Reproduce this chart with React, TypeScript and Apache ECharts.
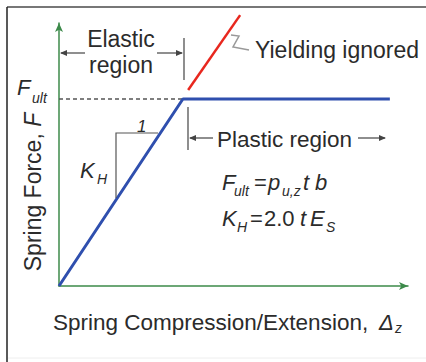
import React, { useEffect, useRef } from "react";
import * as echarts from "echarts";

// Spring force vs. compression (schematic, in % of axis range)
const elasticX = [0, 35.5];
const elasticY = [0, 71.1];
const plasticX = [35.5, 94.8];
const plasticY = [71.1, 71.1];
const yieldIgnoredX = [37.0, 51.9];
const yieldIgnoredY = [74.5, 103.0];
const fultLineX = [0, 35.5];
const fultLineY = [71.1, 71.1];

const FONT = '"Liberation Sans", Arial, Helvetica, sans-serif';
const TXT = "#2b2b2b";
const LINE = "#444444";

function pairs(xs: number[], ys: number[]) {
  return xs.map((x, i) => [x, ys[i]]);
}

function txt(x: number, y: number, text: string, size: number, opts: any = {}) {
  return {
    type: "text",
    x,
    y,
    rotation: opts.rotation || 0,
    z: 10,
    style: {
      text,
      fill: TXT,
      font: `${opts.italic ? "italic " : ""}${size}px ${FONT}`,
      align: opts.align || "left",
      verticalAlign: "middle",
    },
  };
}

function seg(x1: number, y1: number, x2: number, y2: number, color = LINE, w = 1.2) {
  return {
    type: "line",
    z: 10,
    shape: { x1, y1, x2, y2 },
    style: { stroke: color, lineWidth: w },
  };
}

function head(tx: number, ty: number, dir: number) {
  // dir: -1 pointing left, 1 pointing right
  const L = 7, H = 3;
  return {
    type: "polygon",
    z: 10,
    shape: {
      points: [
        [tx, ty],
        [tx - dir * L, ty - H],
        [tx - dir * L, ty + H],
      ],
    },
    style: { fill: LINE },
  };
}

export default function App() {
  const ref = useRef<HTMLDivElement>(null);
  useEffect(() => {
    if (!ref.current) return;
    const chart = echarts.init(ref.current, null, { renderer: "svg" });
    const axisCommon = {
      type: "value",
      min: 0,
      max: 100,
      axisLabel: { show: false },
      axisTick: { show: false },
      splitLine: { show: false },
      axisLine: {
        show: true,
        symbol: ["none", "arrow"],
        symbolSize: [6, 9],
        symbolOffset: [0, 0],
        lineStyle: { color: "#3c8a4a", width: 1.5 },
      },
    };
    chart.setOption({
      animation: false,
      backgroundColor: "#ffffff",
      grid: { left: 59, right: 18, top: 23, bottom: 76 },
      xAxis: { ...axisCommon },
      yAxis: { ...axisCommon },
      series: [
        {
          type: "line",
          data: pairs(fultLineX, fultLineY),
          symbol: "none",
          lineStyle: { color: "#555555", width: 1.5, type: [4, 3] },
          z: 3,
        },
        {
          type: "line",
          data: pairs(elasticX, elasticY).concat([[plasticX[1], plasticY[1]]]),
          symbol: "none",
          lineStyle: { color: "#2f4fae", width: 3 },
          z: 4,
        },
        {
          type: "line",
          data: pairs(yieldIgnoredX, yieldIgnoredY),
          symbol: "none",
          clip: false,
          lineStyle: { color: "#e8271e", width: 2.5 },
          z: 4,
        },
      ],
      graphic: [
        // frame
        seg(7, 7, 426, 7, "#777777", 2),
        seg(7, 7, 7, 362, "#222222", 1.5),
        seg(8, 358, 426, 358, "#eeeeee", 1),
        // Elastic region bracket
        seg(184, 38, 184, 80),
        seg(61, 53, 85, 53),
        head(60, 53, -1),
        seg(157, 53, 182, 53),
        head(183, 53, 1),
        txt(121, 39, "Elastic", 23, { align: "center" }),
        txt(121, 65, "region", 23, { align: "center" }),
        // Yielding ignored
        {
          type: "polyline",
          z: 10,
          shape: { points: [[231, 35], [239, 36], [233, 47], [249, 50]] },
          style: { stroke: "#999999", lineWidth: 1.5, fill: null },
        },
        txt(255, 50, "Yielding ignored", 23),
        // Plastic region
        seg(188, 107, 188, 150),
        seg(190, 138, 213, 138),
        head(189, 138, -1),
        txt(217, 139, "Plastic region", 22.5),
        seg(358, 138, 385, 138),
        head(386, 138, 1),
        // F_ult label
        txt(17, 87, "F", 22, { italic: true }),
        txt(32, 98, "ult", 14, { italic: true }),
        // stiffness triangle
        {
          type: "polyline",
          z: 10,
          shape: { points: [[158, 133], [116, 133], [116, 198]] },
          style: { stroke: "#555555", lineWidth: 1.2, fill: null },
        },
        txt(137, 126, "1", 17, { italic: true }),
        txt(80, 170, "K", 22, { italic: true }),
        txt(97, 179, "H", 14, { italic: true }),
        // formulas
        txt(222, 182, "F", 22, { italic: true }),
        txt(234, 191, "ult", 14, { italic: true }),
        txt(254, 182, "=", 22),
        txt(268, 182, "p", 22, { italic: true }),
        txt(282, 191, "u,z", 14, { italic: true }),
        txt(303, 182, "t", 22, { italic: true }),
        txt(315, 182, "b", 22, { italic: true }),
        txt(222, 218, "K", 22, { italic: true }),
        txt(237, 227, "H", 14, { italic: true }),
        txt(250, 218, "=", 22),
        txt(264, 218, "2.0", 22),
        txt(300, 218, "t", 22, { italic: true }),
        txt(310, 218, "E", 22, { italic: true }),
        txt(326, 227, "S", 14, { italic: true }),
        // axis titles
        {
          type: "text",
          x: 33,
          y: 192,
          rotation: Math.PI / 2,
          z: 10,
          style: {
            text: "{n|Spring Force, }{i|F}",
            fill: TXT,
            align: "center",
            verticalAlign: "middle",
            rich: {
              n: { fontFamily: FONT, fontSize: 23, fill: TXT },
              i: { fontFamily: FONT, fontSize: 23, fontStyle: "italic", fill: TXT },
            },
          },
        },
        txt(53, 322, "Spring Compression/Extension,", 22.5),
        txt(379, 322, "Δ", 22, { italic: true }),
        txt(395, 328, "z", 14, { italic: true }),
      ],
    });
    return () => chart.dispose();
  }, []);
  return (
    <div
      ref={ref}
      style={{ position: "fixed", left: 0, top: 0, width: 426, height: 362, background: "#fff" }}
    />
  );
}
